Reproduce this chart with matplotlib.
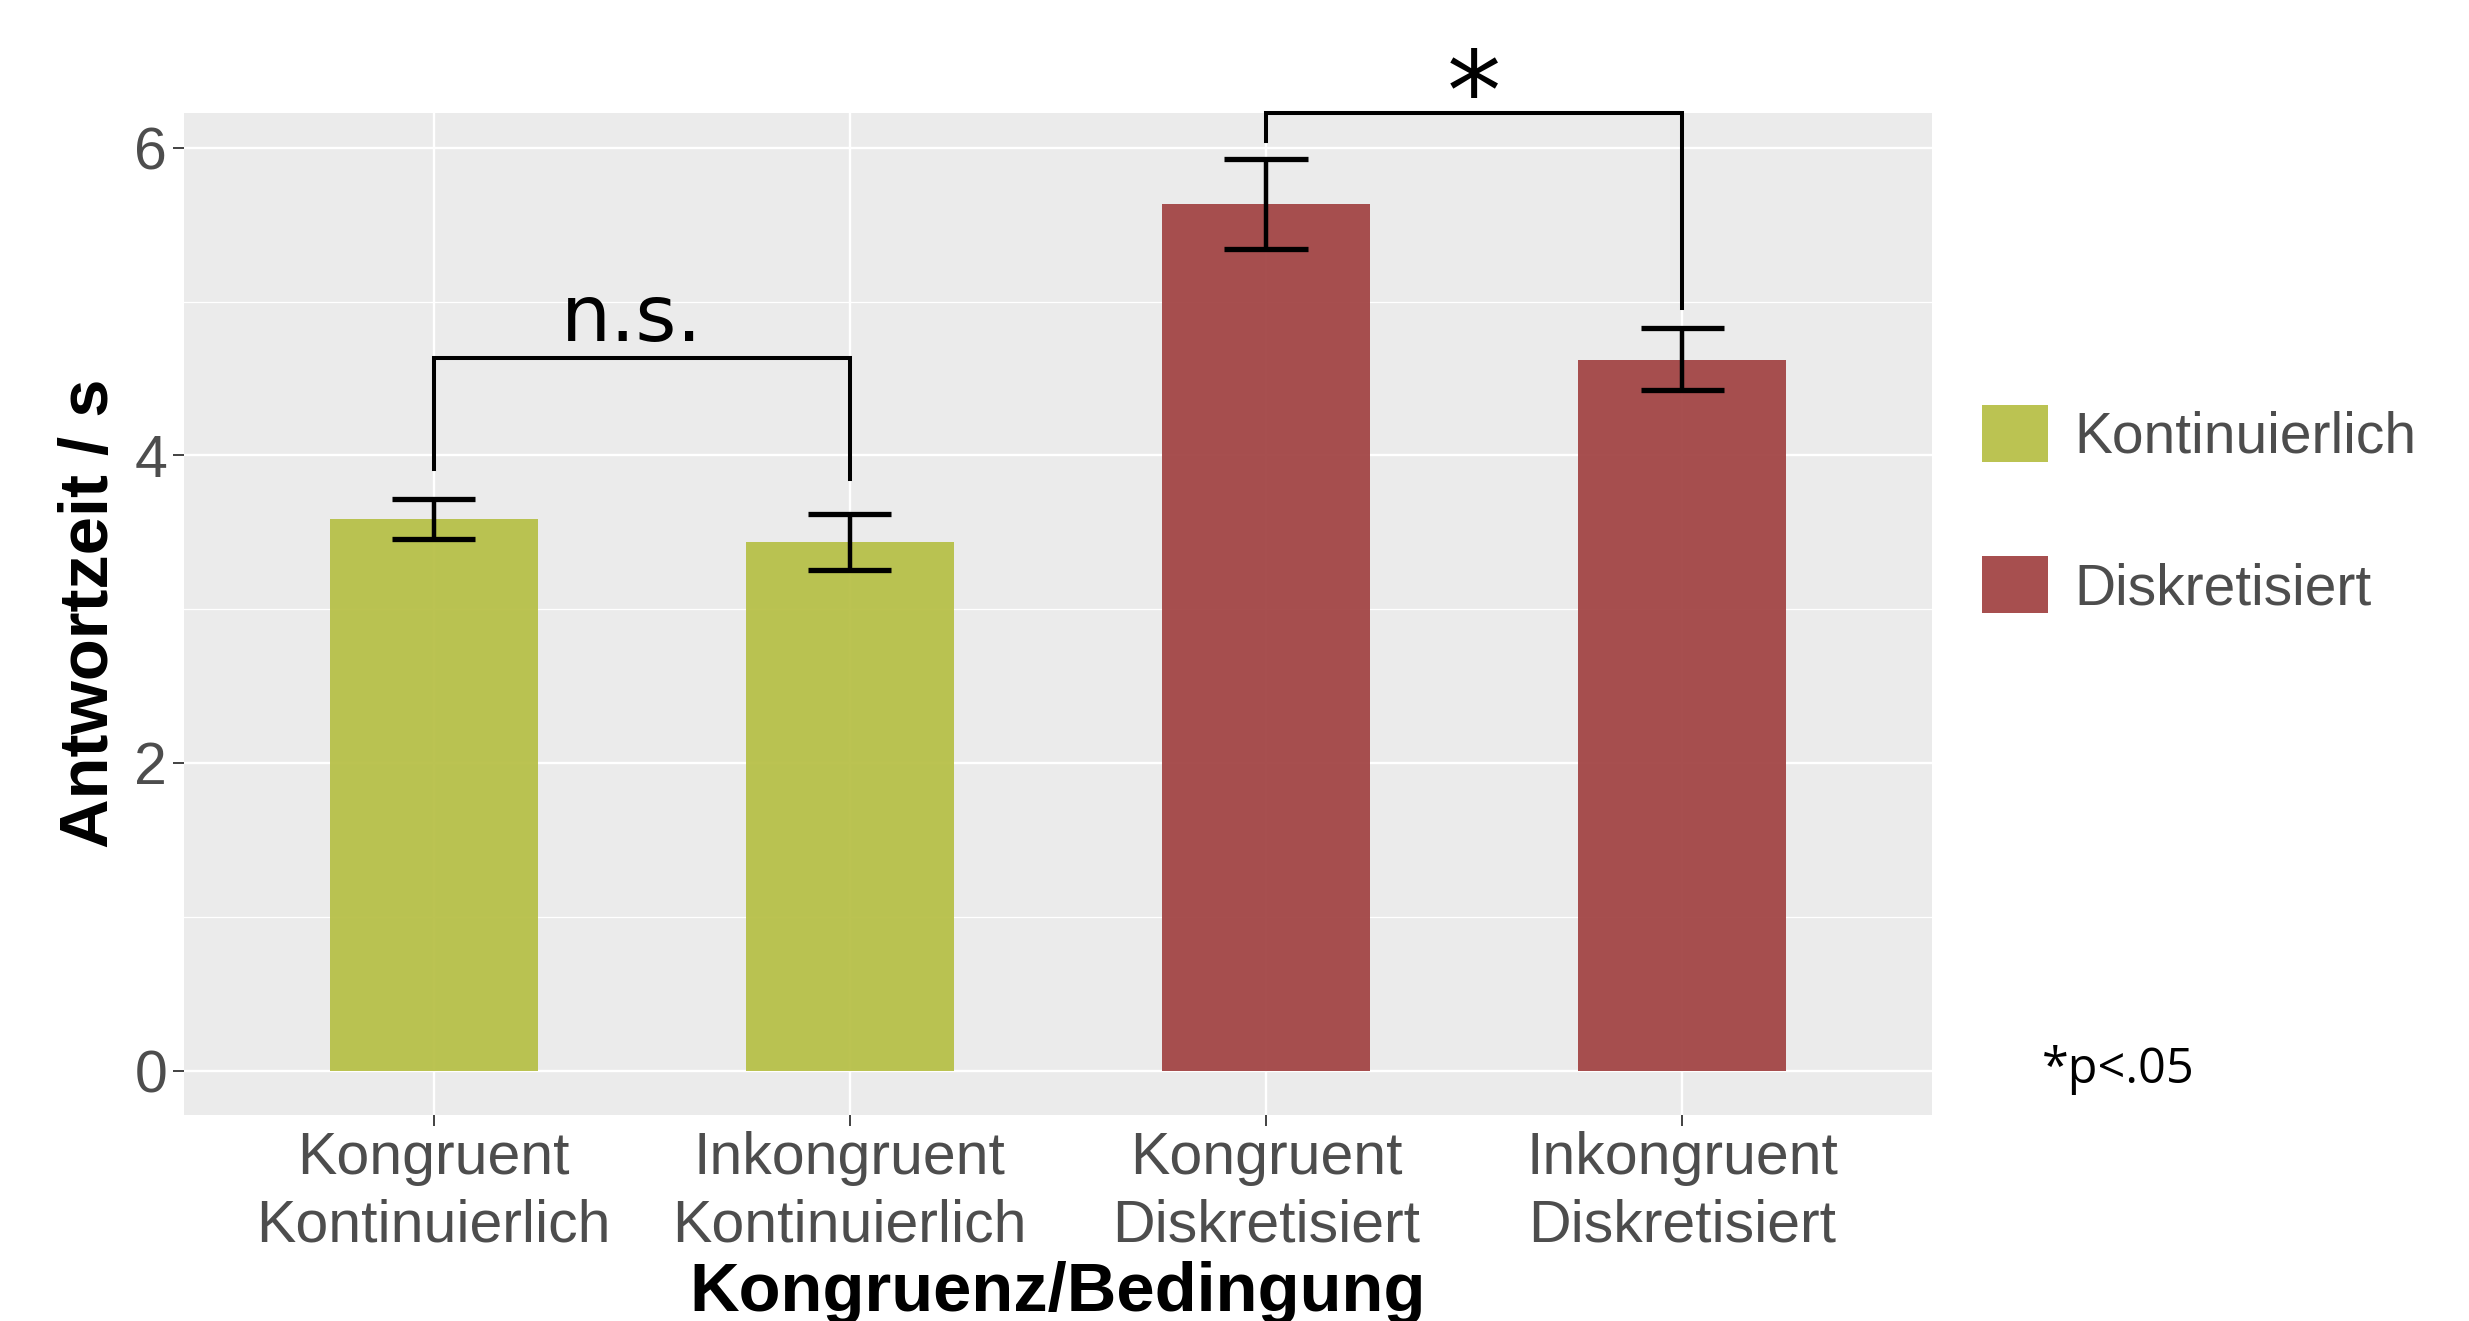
import numpy as np
import matplotlib
matplotlib.use("Agg")
import matplotlib.pyplot as plt
from matplotlib.patches import Patch

# data
labels = ["Kongruent\nKontinuierlich", "Inkongruent\nKontinuierlich",
          "Kongruent\nDiskretisiert", "Inkongruent\nDiskretisiert"]
groups = ["Kontinuierlich", "Kontinuierlich", "Diskretisiert", "Diskretisiert"]
means = [3.586, 3.434, 5.635, 4.620]
err_low = [3.456, 3.255, 5.345, 4.425]
err_high = [3.716, 3.622, 5.926, 4.826]

# significance brackets: (left bar, right bar, top, left leg end, right leg end, text)
brackets = [(1, 2, 4.631, 3.910, 3.845, "n.s."),
            (3, 4, 6.226, 6.042, 4.959, "*")]

colors = {"Kontinuierlich": "#B6BF45", "Diskretisiert": "#A14242"}

plt.rcParams["font.family"] = ["Liberation Sans", "DejaVu Sans"]

fig = plt.figure(figsize=(24.69, 13.21), dpi=100)
ax = fig.add_axes([0.0745, 0.1561, 0.7080, 0.7581])

x = np.arange(1, len(means) + 1)
ax.set_facecolor("#EBEBEB")
for s in ax.spines.values():
    s.set_visible(False)

ax.set_xlim(0.4, 4.6)
ax.set_ylim(-0.288, 6.225)
ax.set_yticks([0, 2, 4, 6])
ax.set_yticks([1, 3, 5], minor=True)
ax.set_xticks(x)
ax.set_xticklabels(labels, linespacing=1.27)
ax.grid(which="major", color="white", lw=1.7)
ax.grid(which="minor", axis="y", color="white", lw=0.9)
ax.set_axisbelow(True)
ax.tick_params(axis="both", which="major", length=8, width=1.3, color="#333333",
               labelsize=42.5, labelcolor="#4D4D4D", pad=4.0)
ax.tick_params(axis="both", which="minor", length=0)

ax.bar(x, means, width=0.5, color=[colors[g] for g in groups], alpha=0.93, zorder=2)

# error bars
cap = 0.1
ax.vlines(x, err_low, err_high, color="black", lw=3.2, zorder=3)
ax.hlines(err_low, x - cap, x + cap, color="black", lw=3.8, zorder=3)
ax.hlines(err_high, x - cap, x + cap, color="black", lw=3.8, zorder=3)

for a, b, top, la, lb, txt in brackets:
    ax.plot([a, a, b, b], [la, top, top, lb], color="black", lw=2.9,
            solid_joinstyle="miter", clip_on=False, zorder=4)
    if txt == "*":
        ax.text((a + b) / 2, 6.12, txt, ha="center", va="baseline", fontsize=78,
                family="DejaVu Sans", clip_on=False)
    else:
        ax.text((a + b) / 2 - 0.025, 4.743, txt, ha="center", va="baseline",
                fontsize=57, family="DejaVu Sans")

fig.text(0.04374, 0.5356, "Antwortzeit / s", rotation=90, rotation_mode="anchor",
         ha="center", va="baseline", fontsize=49.5, fontweight="bold")
fig.text(0.4284, 0.0076, "Kongruenz/Bedingung", ha="center", va="baseline",
         fontsize=49.5, fontweight="bold")

handles = [Patch(facecolor=colors[g], alpha=0.93, edgecolor="none")
           for g in ["Kontinuierlich", "Diskretisiert"]]
fig.legend(handles, ["Kontinuierlich", "Diskretisiert"], loc="upper left",
           bbox_to_anchor=(0.8028, 1 - 405 / 1321), frameon=False, borderpad=0,
           fontsize=41, labelcolor="#4D4D4D", handlelength=1.16, handleheight=1.16,
           handletextpad=0.46, labelspacing=1.61, borderaxespad=0)

fig.text(0.827, 0.180, "*p<.05", fontsize=35, family="Open Sans", ha="left",
         va="baseline")

fig.savefig("out.png", dpi=100)
